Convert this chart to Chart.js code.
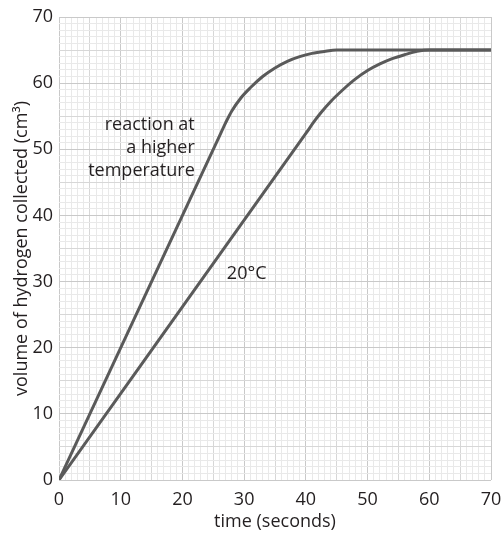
<!DOCTYPE html>
<html>
<head>
<meta charset="utf-8">
<script src="https://cdn.jsdelivr.net/npm/chart.js@4"></script>
<style>
  html, body { margin: 0; padding: 0; background: #fff; }
  #wrap { width: 501px; height: 535px; }
</style>
</head>
<body>
<div id="wrap"><canvas id="rateChart"></canvas></div>
<script>
// valeurs
const hotTime = [0, 26, 27, 28, 29.5, 31, 33, 35, 37, 39, 41, 43, 45, 70];
const hotVolume = [0, 52, 54, 55.8, 57.8, 59.3, 61, 62.3, 63.3, 64, 64.5, 64.8, 65, 65];
const coldTime = [0, 40, 41.5, 42.5, 44, 46, 48, 50, 52, 54, 56, 58, 60, 70];
const coldVolume = [0, 52.4, 54.4, 55.6, 57.2, 59, 60.6, 61.9, 62.9, 63.7, 64.3, 64.8, 65, 65];

const labelLines = [["reaction at", "a higher", "temperature"], ["20°C"]];
const labelAnchor = [[22, 53.7], [27.2, 31.2]];

const FONT = "'Open Sans', 'Noto Sans', sans-serif";
const INK = "#5a5a5a";
const TEXT = "#231f20";

function toPoints(xs, ys) {
  return xs.map((x, i) => ({ x: x, y: ys[i] }));
}

function gridColor(ctx) {
  const v = ctx.tick ? ctx.tick.value : 0;
  if (v % 10 === 0) return "#c9c9c9";
  if (v % 5 === 0) return "#d7d7d7";
  return "#e9e9e9";
}

// textes poses dans le graphique
const curveLabels = {
  id: "curveLabels",
  afterDatasetsDraw(chart) {
    const { ctx, scales } = chart;
    ctx.save();
    ctx.fillStyle = TEXT;
    ctx.font = "18px " + FONT;
    ctx.textBaseline = "middle";
    labelLines.forEach((lines, i) => {
      const px = scales.x.getPixelForValue(labelAnchor[i][0]);
      const py = scales.y.getPixelForValue(labelAnchor[i][1]);
      ctx.textAlign = i === 0 ? "right" : "left";
      lines.forEach((t, j) => ctx.fillText(t, px, py + j * 23));
    });
    ctx.restore();
  },
};

new Chart(document.getElementById("rateChart").getContext("2d"), {
  type: "line",
  data: {
    datasets: [
      {
        label: "higher temperature",
        data: toPoints(hotTime, hotVolume),
        borderColor: INK,
        borderWidth: 3,
        pointRadius: 0,
        cubicInterpolationMode: "monotone",
      },
      {
        label: "20°C",
        data: toPoints(coldTime, coldVolume),
        borderColor: INK,
        borderWidth: 3,
        pointRadius: 0,
        cubicInterpolationMode: "monotone",
      },
    ],
  },
  options: {
    responsive: true,
    maintainAspectRatio: false,
    animation: false,
    layout: { padding: { top: 17, right: 0, left: 0, bottom: 0 } },
    plugins: { legend: { display: false }, tooltip: { enabled: false } },
    scales: {
      x: {
        type: "linear",
        min: 0,
        max: 70,
        afterFit: (s) => {
          s.height = 55;
          s.paddingLeft = 0;
          s.paddingRight = 10;
        },
        ticks: {
          stepSize: 1,
          autoSkip: false,
          maxRotation: 0,
          padding: 9,
          color: TEXT,
          font: { family: FONT, size: 18 },
          callback: (v) => (v % 10 === 0 ? String(v) : ""),
        },
        grid: { color: gridColor, lineWidth: 1, drawTicks: false },
        border: { display: false },
        title: {
          display: true,
          text: "time (seconds)",
          color: TEXT,
          font: { family: FONT, size: 18 },
          padding: { top: 0, bottom: 2 },
        },
      },
      y: {
        min: 0,
        max: 70,
        afterFit: (s) => {
          s.width = 59;
          s.paddingTop = 0;
          s.paddingBottom = 0;
        },
        ticks: {
          stepSize: 1,
          autoSkip: false,
          padding: 6,
          color: TEXT,
          font: { family: FONT, size: 18 },
          callback: (v) => (v % 10 === 0 ? String(v) : ""),
        },
        grid: { color: gridColor, lineWidth: 1, drawTicks: false },
        border: { display: false },
        title: {
          display: true,
          text: "volume of hydrogen collected (cm³)",
          color: TEXT,
          font: { family: FONT, size: 18 },
          padding: { top: 11, bottom: 0 },
        },
      },
    },
  },
  plugins: [curveLabels],
});
</script>
</body>
</html>
